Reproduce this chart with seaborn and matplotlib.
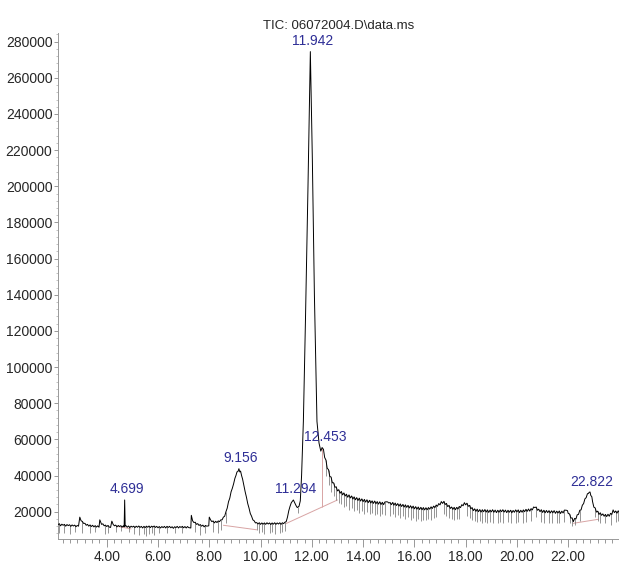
import numpy as np
import pandas as pd
import matplotlib
matplotlib.use("Agg")
import matplotlib.pyplot as plt
import seaborn as sns
from matplotlib.ticker import MultipleLocator, AutoMinorLocator, FormatStrFormatter

# TIC trace, retention time (min) / abundance (thousands)
early_rt = [
    2.10, 2.15, 2.20, 2.25, 2.30, 2.35, 2.40, 2.45, 2.50, 2.55,
    2.60, 2.65, 2.70, 2.75, 2.80, 2.85, 2.90, 2.95, 3.00, 3.05,
    3.10, 3.15, 3.20, 3.25, 3.30, 3.35, 3.40, 3.45, 3.50, 3.55,
    3.60, 3.65, 3.70, 3.73, 3.80, 3.85, 3.90, 3.95, 4.00, 4.05,
    4.10, 4.15, 4.20, 4.25, 4.30, 4.35, 4.40, 4.45, 4.50, 4.55,
    4.60, 4.65, 4.68, 4.70, 4.72, 4.75, 4.80, 4.85, 4.90, 4.95,
    5.00, 5.05, 5.10, 5.15, 5.20, 5.25, 5.30, 5.35, 5.40, 5.45,
    5.50, 5.55, 5.60, 5.65, 5.70, 5.75, 5.80, 5.85, 5.90, 5.95,
    6.00, 6.05, 6.10, 6.15, 6.20, 6.25, 6.30, 6.35, 6.40, 6.45,
    6.50, 6.55, 6.60, 6.65, 6.70, 6.75, 6.80, 6.85, 6.90, 6.95,
    7.00, 7.05, 7.10, 7.15, 7.20, 7.28, 7.30, 7.35, 7.40, 7.45,
    7.50, 7.55, 7.60, 7.65, 7.70, 7.75, 7.80, 7.85, 7.90, 7.98,
    8.00, 8.05, 8.10, 8.15, 8.20, 8.25, 8.30, 8.35, 8.40, 8.45,
    8.50,
]
early_k = [
    12.8, 13.4, 12.2, 13.1, 12.5, 13.0, 12.0, 12.9, 12.3, 12.8,
    11.9, 12.7, 12.1, 12.6, 11.7, 12.4, 12.0, 17.0, 15.0, 14.6,
    13.5, 13.6, 12.5, 13.0, 12.0, 12.7, 11.8, 12.5, 11.6, 12.3,
    11.5, 12.2, 11.4, 15.5, 13.0, 13.3, 12.2, 12.6, 11.8, 12.4,
    11.5, 11.3, 14.8, 13.0, 12.2, 12.6, 11.6, 12.4, 11.8, 12.3,
    11.5, 12.2, 11.6, 26.5, 12.0, 12.3, 11.4, 12.1, 11.2, 12.0,
    11.5, 12.0, 11.2, 12.0, 11.4, 12.1, 11.3, 11.9, 11.0, 11.9,
    11.2, 12.0, 11.4, 12.1, 11.2, 12.0, 11.5, 12.1, 11.3, 11.9,
    11.1, 11.8, 11.0, 11.8, 11.2, 11.9, 11.0, 11.9, 11.3, 11.9,
    11.1, 11.7, 10.8, 11.7, 11.2, 11.9, 11.0, 11.8, 11.3, 11.9,
    11.1, 11.8, 11.0, 11.8, 11.2, 11.0, 18.0, 15.0, 14.0, 14.2,
    13.0, 13.4, 12.4, 12.9, 12.0, 12.6, 11.6, 12.4, 12.0, 12.2,
    17.0, 15.5, 14.5, 14.9, 13.8, 14.7, 14.0, 14.9, 14.5, 15.5,
    15.5,
]

mid_rt = [
    8.55, 8.60, 8.65, 8.70, 8.75, 8.80, 8.85, 8.90, 8.95, 9.00,
    9.04, 9.08, 9.12, 9.156, 9.19, 9.22, 9.26, 9.30, 9.35, 9.40,
    9.45, 9.50, 9.55, 9.60, 9.65, 9.70, 9.75, 9.80, 9.85, 9.90,
    9.95, 10.00, 10.05, 10.10, 10.15, 10.20, 10.25, 10.30, 10.35, 10.40,
    10.45, 10.50, 10.55, 10.60, 10.65, 10.70, 10.75, 10.80, 10.85, 10.90,
    10.95, 11.00, 11.05, 11.10, 11.15, 11.20, 11.28, 11.33, 11.38, 11.43,
    11.50, 11.55, 11.60, 11.67, 11.75, 11.85, 11.942, 12.02, 12.10, 12.20,
    12.28, 12.35, 12.40, 12.453,
]
mid_k = [
    17.0, 17.5, 20.0, 22.0, 25.5, 27.5, 31.0, 33.0, 35.5, 38.5,
    40.0, 42.0, 42.3, 43.8, 42.0, 42.5, 40.0, 38.0, 34.5, 31.0,
    28.0, 24.5, 22.0, 19.0, 17.5, 15.5, 15.0, 13.8, 14.0, 13.2,
    13.9, 13.0, 13.8, 13.1, 13.8, 13.0, 13.9, 13.2, 13.8, 12.9,
    13.8, 13.1, 13.9, 13.0, 13.8, 13.2, 13.9, 13.0, 13.9, 13.4,
    14.2, 14.5, 17.0, 20.5, 23.0, 25.0, 26.5, 25.0, 23.5, 22.3,
    23.0, 26.0, 40.0, 70.0, 125.0, 200.0, 274.5, 215.0, 140.0, 70.0,
    58.0, 53.5, 55.5, 54.5,
]

tail_rt = [
    12.50, 12.55, 12.60, 12.65, 12.70, 12.75, 12.80, 12.85, 12.90, 12.95,
    13.00, 13.05, 13.10, 13.15, 13.20, 13.25, 13.30, 13.35, 13.40, 13.45,
    13.50, 13.55, 13.60, 13.65, 13.70, 13.75, 13.80, 13.85, 13.90, 13.95,
    14.00, 14.05, 14.10, 14.15, 14.20, 14.25, 14.30, 14.35, 14.40, 14.45,
    14.50, 14.55, 14.60, 14.65, 14.70, 14.75, 14.80, 14.85, 14.92, 14.96,
    15.00, 15.05, 15.10, 15.15, 15.20, 15.25, 15.30, 15.35, 15.40, 15.45,
    15.50, 15.55, 15.60, 15.65, 15.70, 15.75, 15.80, 15.85, 15.90, 15.95,
    16.00, 16.05, 16.10, 16.15, 16.20, 16.25, 16.30, 16.35, 16.40, 16.45,
    16.50, 16.55, 16.60, 16.65, 16.70, 16.75, 16.80, 16.85, 16.90, 16.95,
    17.00, 17.05, 17.10, 17.15, 17.20, 17.25, 17.30, 17.35, 17.40, 17.45,
    17.50, 17.55, 17.60, 17.65, 17.70, 17.75, 17.80, 17.85, 17.90, 17.95,
    18.00, 18.05, 18.10, 18.15, 18.20, 18.25, 18.30, 18.35, 18.40, 18.45,
    18.50, 18.55, 18.60, 18.65, 18.70, 18.75, 18.80, 18.85, 18.90, 18.95,
    19.00, 19.05, 19.10, 19.15, 19.20, 19.25, 19.30, 19.35, 19.40, 19.45,
    19.50, 19.55, 19.60, 19.65, 19.70, 19.75, 19.80, 19.85, 19.90, 19.95,
    20.00, 20.05, 20.10, 20.15, 20.20, 20.25, 20.30, 20.35, 20.40, 20.45,
    20.50, 20.55, 20.60, 20.65, 20.70, 20.75, 20.80, 20.85, 20.90, 20.95,
    21.00, 21.05, 21.10, 21.15, 21.20, 21.25, 21.30, 21.35, 21.40, 21.45,
    21.50, 21.55, 21.60, 21.65, 21.70, 21.75, 21.80, 21.85, 21.93, 21.97,
    22.00, 22.05, 22.10, 22.15, 22.20, 22.25, 22.30, 22.35, 22.40, 22.45,
    22.50, 22.55, 22.60, 22.65, 22.70, 22.75, 22.78, 22.822, 22.85, 22.88,
    22.92, 22.95, 23.00, 23.05, 23.10, 23.15, 23.20, 23.25, 23.30, 23.35,
    23.40, 23.45, 23.50, 23.55, 23.60, 23.65, 23.70, 23.75, 23.80, 23.85,
    23.90, 23.95, 24.00,
]
tail_k = [
    50.0, 48.6, 44.0, 43.3, 39.5, 39.2, 36.0, 36.0, 33.5, 33.8,
    31.5, 32.2, 30.2, 31.2, 29.3, 30.4, 28.7, 29.7, 28.0, 29.3,
    27.6, 28.7, 27.0, 28.2, 26.6, 27.8, 26.2, 27.5, 25.9, 27.1,
    25.6, 26.8, 25.3, 26.6, 25.0, 26.3, 24.8, 26.0, 24.6, 25.9,
    24.4, 25.6, 24.2, 25.5, 24.0, 25.2, 23.9, 25.4, 25.5, 25.4,
    24.8, 25.1, 23.9, 25.1, 23.6, 24.8, 23.4, 24.5, 23.1, 24.3,
    22.9, 24.0, 22.6, 23.8, 22.4, 23.5, 22.1, 23.3, 21.9, 23.1,
    21.6, 22.8, 21.4, 22.6, 21.2, 22.4, 21.1, 22.3, 21.0, 22.2,
    21.1, 22.3, 21.4, 22.7, 21.8, 23.1, 22.3, 23.7, 23.0, 24.5,
    23.8, 25.6, 24.6, 25.7, 24.0, 24.6, 22.8, 23.5, 21.8, 22.6,
    21.3, 22.4, 21.1, 22.4, 21.5, 22.9, 22.3, 23.9, 23.3, 25.0,
    23.8, 24.7, 23.0, 23.5, 21.6, 22.3, 20.6, 21.6, 20.2, 21.4,
    20.0, 21.2, 19.8, 21.1, 20.0, 21.2, 19.8, 21.0, 19.6, 20.9,
    19.9, 21.1, 19.7, 20.9, 19.5, 20.8, 19.7, 21.0, 20.0, 21.1,
    19.8, 20.9, 19.5, 20.8, 19.7, 20.8, 19.4, 20.7, 19.7, 21.0,
    19.9, 21.0, 19.5, 20.8, 19.7, 21.0, 20.0, 21.3, 20.2, 21.5,
    20.3, 21.7, 21.0, 22.6, 22.3, 22.6, 20.8, 21.4, 20.0, 21.1,
    19.6, 20.8, 19.4, 20.7, 19.5, 20.6, 19.3, 20.5, 19.4, 20.6,
    19.1, 20.3, 19.3, 20.4, 19.0, 20.3, 19.3, 20.9, 20.8, 20.6,
    19.0, 18.8, 16.5, 16.6, 14.5, 16.3, 16.0, 18.3, 18.5, 20.8,
    21.0, 23.6, 24.5, 27.1, 27.8, 30.0, 30.0, 30.8, 30.9, 29.0,
    28.3, 25.5, 22.5, 22.1, 19.8, 20.3, 18.5, 19.4, 18.0, 18.8,
    17.5, 18.5, 17.3, 18.6, 17.5, 19.1, 18.5, 21.0, 19.5, 20.4,
    19.2, 20.5, 19.5,
]

# single-scan dropouts: retention time, top and bottom (thousands)
spike_rt = [
    2.15, 2.35, 2.55, 2.75, 3.05, 3.35, 3.55, 3.95, 4.05, 4.35,
    4.55, 4.85, 5.05, 5.25, 5.45, 5.55, 5.65, 5.75, 5.85, 6.05,
    6.35, 6.65, 6.95, 7.45, 7.65, 7.85, 8.15, 8.35, 8.45, 8.65,
    9.85, 9.95, 10.05, 10.15, 10.35, 10.45, 10.55, 10.75, 10.85, 10.95,
    11.47, 12.55, 12.65, 12.75, 12.85, 12.95, 13.05, 13.15, 13.25, 13.35,
    13.45, 13.55, 13.65, 13.75, 13.85, 13.95, 14.05, 14.15, 14.25, 14.35,
    14.45, 14.55, 14.65, 14.75, 14.85, 15.05, 15.15, 15.25, 15.35, 15.45,
    15.55, 15.65, 15.75, 15.85, 15.95, 16.05, 16.15, 16.25, 16.35, 16.45,
    16.55, 16.65, 16.75, 16.85, 17.15, 17.25, 17.35, 17.45, 17.55, 17.65,
    17.75, 18.05, 18.15, 18.25, 18.35, 18.45, 18.55, 18.65, 18.75, 18.85,
    18.95, 19.05, 19.25, 19.35, 19.45, 19.65, 19.75, 19.95, 20.05, 20.25,
    20.35, 20.55, 20.75, 20.95, 21.05, 21.25, 21.35, 21.55, 21.65, 21.85,
    22.05, 22.15, 22.25, 22.45, 23.05, 23.15, 23.25, 23.45, 23.65, 23.85,
    23.95,
]
spike_hi_k = [
    13.4, 13.0, 12.8, 12.6, 14.6, 12.7, 12.3, 12.6, 12.4, 12.6,
    12.3, 12.1, 12.0, 12.1, 11.9, 12.0, 12.1, 12.0, 12.1, 11.8,
    11.9, 11.7, 11.9, 14.2, 12.9, 12.4, 14.9, 14.9, 15.5, 20.0,
    14.0, 13.9, 13.8, 13.8, 13.8, 13.8, 13.9, 13.9, 13.9, 14.2,
    22.6, 48.6, 43.3, 39.2, 36.0, 33.8, 32.2, 31.2, 30.4, 29.7,
    29.3, 28.7, 28.2, 27.8, 27.5, 27.1, 26.8, 26.6, 26.3, 26.0,
    25.9, 25.6, 25.5, 25.2, 25.4, 25.1, 25.1, 24.8, 24.5, 24.3,
    24.0, 23.8, 23.5, 23.3, 23.1, 22.8, 22.6, 22.4, 22.3, 22.2,
    22.3, 22.7, 23.1, 23.7, 25.7, 24.6, 23.5, 22.6, 22.4, 22.4,
    22.9, 24.7, 23.5, 22.3, 21.6, 21.4, 21.2, 21.1, 21.2, 21.0,
    20.9, 21.1, 20.8, 21.0, 21.1, 20.8, 20.8, 21.0, 21.0, 21.0,
    21.3, 21.7, 22.6, 21.1, 20.8, 20.6, 20.5, 20.3, 20.4, 20.9,
    18.8, 16.6, 16.3, 20.8, 22.1, 20.3, 19.4, 18.5, 19.1, 20.4,
    20.5,
]
spike_lo_k = [
    8.0, 8.5, 7.5, 9.0, 8.0, 8.5, 9.0, 7.5, 8.5, 9.0,
    9.5, 9.0, 7.5, 7.0, 7.5, 6.8, 7.5, 8.0, 7.0, 8.5,
    8.0, 8.5, 8.0, 9.0, 7.0, 8.0, 9.0, 8.5, 10.0, 14.0,
    10.0, 8.5, 9.0, 7.5, 8.0, 9.0, 7.8, 8.5, 9.0, 9.5,
    19.5, 40.0, 35.0, 31.0, 28.5, 26.5, 25.0, 24.0, 22.5, 23.0,
    21.0, 22.0, 20.5, 21.0, 19.5, 20.5, 19.0, 20.0, 18.5, 19.5,
    18.0, 19.0, 17.5, 18.5, 18.0, 17.5, 18.5, 17.0, 18.0, 16.5,
    17.5, 16.0, 17.0, 15.5, 16.5, 15.0, 16.0, 15.0, 15.5, 15.5,
    16.0, 15.5, 16.5, 17.0, 18.5, 17.5, 16.5, 16.0, 15.5, 16.0,
    16.0, 17.5, 16.5, 15.5, 15.0, 14.5, 15.0, 14.0, 14.5, 14.0,
    14.5, 14.0, 13.5, 14.5, 14.0, 14.5, 13.5, 14.0, 14.5, 13.5,
    14.5, 15.0, 17.0, 14.5, 14.0, 13.5, 14.0, 13.5, 14.0, 14.5,
    14.0, 12.0, 12.5, 15.0, 17.0, 15.0, 14.0, 13.5, 12.5, 14.5,
    15.0,
]

# labelled peaks
peak_rt = [4.699, 9.156, 11.294, 11.942, 12.453, 22.822]
peak_top_k = [26.5, 43.8, 26.5, 274.5, 55.5, 30.8]
peak_label = ["4.699", "9.156", "11.294", "11.942", "12.453", "22.822"]

# integration baselines (start rt, start k, end rt, end k)
base_rt0 = [4.45, 8.55, 11.00, 22.20]
base_k0 = [11.8, 12.5, 13.5, 13.6]
base_rt1 = [4.95, 9.85, 13.00, 23.17]
base_k1 = [10.5, 10.0, 26.5, 15.8]
drop_rt = [12.40]
drop_lo_k = [22.6]
drop_hi_k = [55.0]

df = pd.DataFrame({"rt": early_rt + mid_rt + tail_rt,
                   "tic": np.array(early_k + mid_k + tail_k) * 1000})

sns.set_style("ticks")
plt.rcParams["font.family"] = ["Liberation Sans", "DejaVu Sans"]

fig = plt.figure(figsize=(6.19, 5.64), dpi=100)
ax = fig.add_axes([0.0937, 0.0443, 0.9063, 0.8972])

pink = "#d8a4a4"
for x0, y0, x1, y1 in zip(base_rt0, base_k0, base_rt1, base_k1):
    ax.plot([x0, x1], [y0 * 1000, y1 * 1000], color=pink, lw=0.7, zorder=1)
ax.vlines(drop_rt, np.array(drop_lo_k) * 1000, np.array(drop_hi_k) * 1000,
          color=pink, lw=0.7, zorder=1)

ax.vlines(spike_rt, np.array(spike_lo_k) * 1000, np.array(spike_hi_k) * 1000,
          color="#6a6a6a", lw=0.5, zorder=2)
sns.lineplot(data=df, x="rt", y="tic", color="black", lw=0.7, ax=ax,
             estimator=None, sort=False, zorder=3)

for x, top, lab in zip(peak_rt, peak_top_k, peak_label):
    ax.annotate(lab, xy=(x, top * 1000), xytext=(1.5, 2.5), textcoords="offset points",
                ha="center", va="bottom", color="#2e2e96", fontsize=10)

ax.set_title("TIC: 06072004.D\\data.ms", fontsize=9.5, pad=3)
ax.set_xlim(2.1, 23.98)
ax.set_ylim(4900, 284800)
ax.set_xlabel("")
ax.set_ylabel("")

ax.xaxis.set_major_locator(MultipleLocator(2))
ax.xaxis.set_minor_locator(AutoMinorLocator(7))
ax.xaxis.set_major_formatter(FormatStrFormatter("%.2f"))
ax.set_yticks(np.arange(20000, 280001, 20000))
ax.yaxis.set_minor_locator(AutoMinorLocator(5))

ax.tick_params(axis="x", which="major", length=6, width=0.6, color="#888888",
               labelsize=10, pad=2)
ax.tick_params(axis="x", which="minor", length=3, width=0.6, color="#888888")
ax.tick_params(axis="y", which="major", length=3, width=0.6, color="#888888",
               labelsize=10, pad=1)
ax.tick_params(axis="y", which="minor", length=1.5, width=0.5, color="#aaaaaa")

sns.despine(ax=ax)
for side in ["left", "bottom"]:
    ax.spines[side].set_color("#999999")
    ax.spines[side].set_linewidth(0.7)

fig.savefig("out.png", dpi=100)
